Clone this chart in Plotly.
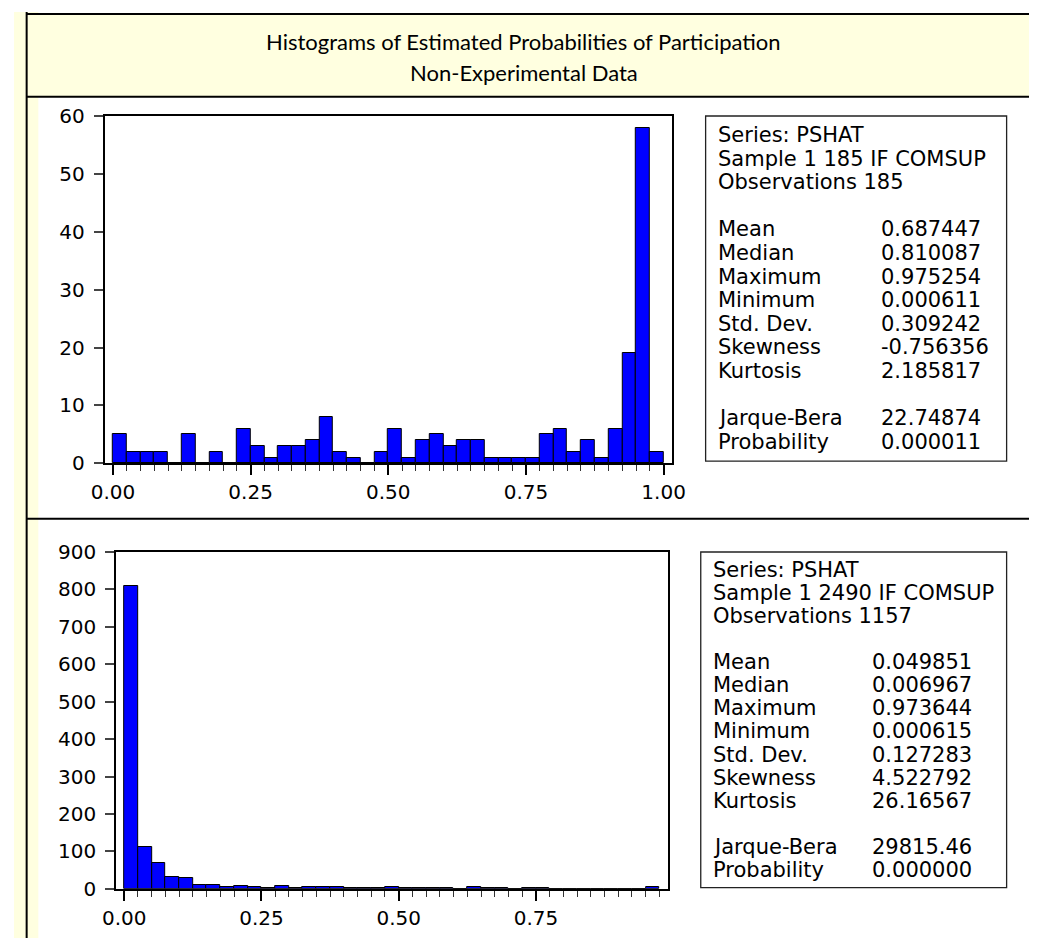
import numpy as np
import plotly.graph_objects as go

W, H = 1043, 950

# Histogram data: counts per bin of width 0.025 starting at 0
bin_width = 0.025
top_counts = [5, 2, 2, 2, 0, 5, 0, 2, 0, 6,
              3, 1, 3, 3, 4, 8, 2, 1, 0, 2,
              6, 1, 4, 5, 3, 4, 4, 1, 1, 1,
              1, 5, 6, 2, 4, 1, 6, 19, 58, 2]
bottom_counts = [810, 112, 70, 32, 29, 11, 11, 5, 8, 5,
                 3, 8, 2, 4, 5, 5, 1, 1, 1, 5,
                 3, 1, 2, 1, 0, 5, 1, 1, 0, 1,
                 1, 0, 0, 0, 0, 0, 0, 0, 6]

# Descriptive statistics shown beside each histogram
stat_names = ["Mean", "Median", "Maximum", "Minimum", "Std. Dev.", "Skewness", "Kurtosis"]
test_names = ["Jarque-Bera", "Probability"]

top_header = ["Series: PSHAT", "Sample 1 185 IF COMSUP", "Observations 185"]
top_stats = ["0.687447", "0.810087", "0.975254", "0.000611", "0.309242", "-0.756356", "2.185817"]
top_tests = ["22.74874", "0.000011"]

bottom_header = ["Series: PSHAT", "Sample 1 2490 IF COMSUP", "Observations 1157"]
bottom_stats = ["0.049851", "0.006967", "0.973644", "0.000615", "0.127283", "4.522792", "26.16567"]
bottom_tests = ["29815.46", "0.000000"]

title_lines = ["Histograms of Estimated Probabilities of Participation", "Non-Experimental Data"]

top_xticks = [0.0, 0.25, 0.5, 0.75, 1.0]
bottom_xticks = [0.0, 0.25, 0.5, 0.75]

TEXT_FONT = "DejaVu Sans"
TITLE_FONT = "Lato"
CREAM = "#FFFFE0"


def px(x):
    return x / W


def py(y):
    return 1 - y / H


def centers(counts):
    return [bin_width * (i + 0.5) for i in range(len(counts))]


fig = go.Figure()

bar_style = dict(color="#0000FF", line=dict(color="black", width=1))
fig.add_trace(go.Bar(x=centers(top_counts), y=top_counts, width=bin_width,
                     marker=bar_style, xaxis="x", yaxis="y", hoverinfo="x+y"))
fig.add_trace(go.Bar(x=centers(bottom_counts), y=bottom_counts, width=bin_width,
                     marker=bar_style, xaxis="x2", yaxis="y2", hoverinfo="x+y"))


def x_axis(domain, rng, ticks):
    return dict(domain=domain, range=rng, tickvals=ticks, ticktext=[f"{t:.2f}" for t in ticks],
                ticks="outside", ticklen=10, tickwidth=1.5, tickcolor="black",
                minor=dict(dtick=bin_width, tick0=0, ticks="outside", ticklen=6,
                           tickwidth=1.2, tickcolor="#333"),
                showline=True, linecolor="black", linewidth=2, mirror=True,
                showgrid=False, zeroline=False,
                tickfont=dict(family=TEXT_FONT, size=20, color="black"))


def y_axis(domain, rng, dtick):
    return dict(domain=domain, range=rng, dtick=dtick, tick0=0,
                ticks="outside", ticklen=9, tickwidth=1.5, tickcolor="#444",
                ticklabelstandoff=5,
                showline=True, linecolor="black", linewidth=2, mirror=True,
                showgrid=False, zeroline=False,
                tickfont=dict(family=TEXT_FONT, size=20, color="black"))


fig.update_layout(
    width=W, height=H,
    margin=dict(l=0, r=0, t=0, b=0),
    paper_bgcolor="white", plot_bgcolor="white",
    showlegend=False, bargap=0,
    xaxis=dict(x_axis([px(93.3), px(676)], [-0.0148, 1.015], top_xticks), anchor="y"),
    yaxis=dict(y_axis([py(463), py(106.7)], [0, 60], 10), anchor="x"),
    xaxis2=dict(x_axis([px(105), px(671.7)], [-0.0147, 0.990], bottom_xticks), anchor="y2"),
    yaxis2=dict(y_axis([py(899.5), py(554)], [0, 900], 100), anchor="x2"),
)

shapes = []
# cream page edge and title band
shapes.append(dict(type="rect", xref="paper", yref="paper", x0=0, x1=px(25), y0=0, y1=1,
                   fillcolor=CREAM, line=dict(width=0), layer="below"))
shapes.append(dict(type="rect", xref="paper", yref="paper", x0=px(13), x1=1, y0=py(87), y1=py(2),
                   fillcolor=CREAM, line=dict(width=0), layer="below"))
for y in (2, 87, 520):
    shapes.append(dict(type="line", xref="paper", yref="paper", x0=px(13), x1=1, y0=py(y), y1=py(y),
                       line=dict(color="black", width=2)))
shapes.append(dict(type="line", xref="paper", yref="paper", x0=px(13), x1=px(13), y0=0, y1=1,
                   line=dict(color="black", width=2)))

# statistics boxes
boxes = [
    dict(x0=710.7, x1=1020, y0=106.7, y1=460.7, lab_x=721, val_x=889, first=126.3, step=24.2,
         header=top_header, stats=top_stats, tests=top_tests),
    dict(x0=705.7, x1=1020, y0=554, y1=898.3, lab_x=716, val_x=879.5, first=572.2, step=23.7,
         header=bottom_header, stats=bottom_stats, tests=bottom_tests),
]

annotations = []
for b in boxes:
    shapes.append(dict(type="rect", xref="paper", yref="paper", x0=px(b["x0"]), x1=px(b["x1"]),
                       y0=py(b["y1"]), y1=py(b["y0"]), line=dict(color="#222", width=1.3),
                       fillcolor="white", layer="below"))
    rows = [(h, "") for h in b["header"]] + [("", "")] \
        + list(zip(stat_names, b["stats"])) + [("", "")] + list(zip(test_names, b["tests"]))
    for k, (lab, val) in enumerate(rows):
        yy = py(b["first"] + k * b["step"])
        if lab:
            annotations.append(dict(x=px(b["lab_x"]), y=yy, xref="paper", yref="paper", text=lab,
                                    xanchor="left", yanchor="middle", showarrow=False,
                                    font=dict(family=TEXT_FONT, size=21, color="black")))
        if val:
            annotations.append(dict(x=px(b["val_x"]), y=yy, xref="paper", yref="paper", text=val,
                                    xanchor="left", yanchor="middle", showarrow=False,
                                    font=dict(family=TEXT_FONT, size=21, color="black")))

for line, yc in zip(title_lines, (30, 62)):
    annotations.append(dict(x=px(524), y=py(yc), xref="paper", yref="paper", text=line,
                            xanchor="center", yanchor="middle", showarrow=False,
                            font=dict(family=TITLE_FONT, size=22, color="black")))

fig.update_layout(shapes=shapes, annotations=annotations)
fig.write_html("out.html")
